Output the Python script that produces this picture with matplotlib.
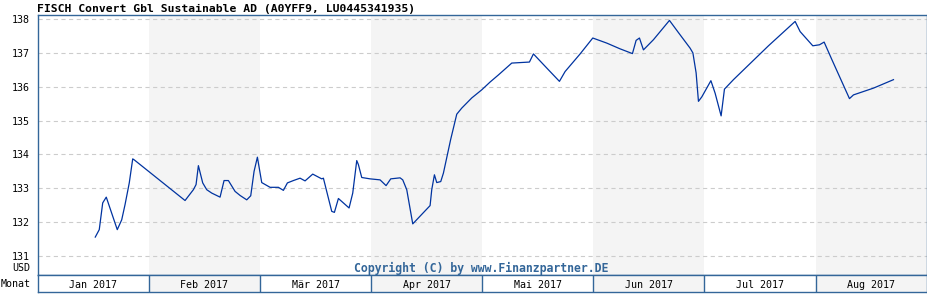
import matplotlib
matplotlib.use("Agg")
from matplotlib import pyplot as plt

# Kursverlauf: x = Position in Monaten ab 1. Jan 2017 (jeder Monat gleich breit)
monat_pos = [
    0.518, 0.554, 0.585, 0.617, 0.716, 0.756, 0.786, 0.824, 0.855, 0.869,
    1.326, 1.401, 1.425, 1.446, 1.485, 1.521, 1.566, 1.641, 1.677, 1.716,
    1.776, 1.821, 1.881, 1.917, 1.947, 1.977, 2.016, 2.091, 2.166, 2.211,
    2.247, 2.301, 2.361, 2.406, 2.475, 2.556, 2.571, 2.616, 2.646, 2.670,
    2.706, 2.802, 2.835, 2.871, 2.886, 2.916, 2.991, 3.081, 3.135, 3.177,
    3.261, 3.285, 3.321, 3.375, 3.531, 3.546, 3.570, 3.591, 3.627, 3.651,
    3.716, 3.771, 3.816, 3.906, 3.996, 4.071, 4.146, 4.266, 4.425, 4.461,
    4.582, 4.695, 4.746, 4.881, 4.995, 5.121, 5.241, 5.352, 5.385, 5.415,
    5.451, 5.541, 5.685, 5.766, 5.871, 5.896, 5.925, 5.946, 5.976, 6.058,
    6.096, 6.150, 6.180, 6.261, 6.576, 6.816, 6.861, 6.975, 7.035, 7.077,
    7.147, 7.305, 7.341, 7.521, 7.701,
]
kurs = [
    131.56, 131.78, 132.57, 132.74, 131.78, 132.07, 132.52, 133.16, 133.87, 133.84,
    132.64, 132.96, 133.11, 133.67, 133.16, 132.96, 132.86, 132.74, 133.23, 133.23,
    132.91, 132.79, 132.66, 132.78, 133.50, 133.92, 133.17, 133.03, 133.03, 132.94,
    133.16, 133.23, 133.30, 133.22, 133.42, 133.28, 133.30, 132.71, 132.32, 132.29,
    132.70, 132.42, 132.86, 133.82, 133.70, 133.32, 133.28, 133.25, 133.08, 133.28,
    133.31, 133.25, 132.96, 131.95, 132.49, 132.96, 133.40, 133.17, 133.20, 133.45,
    134.44, 135.19, 135.37, 135.67, 135.91, 136.14, 136.35, 136.70, 136.73, 136.97,
    136.55, 136.16, 136.45, 136.97, 137.44, 137.29, 137.12, 136.98, 137.37, 137.44,
    137.09, 137.39, 137.96, 137.60, 137.14, 137.00, 136.41, 135.57, 135.70, 136.18,
    135.81, 135.14, 135.93, 136.21, 137.21, 137.93, 137.63, 137.21, 137.24, 137.32,
    136.80, 135.65, 135.76, 135.96, 136.21,
]
monate = ["Jan 2017", "Feb 2017", "Mär 2017", "Apr 2017",
          "Mai 2017", "Jun 2017", "Jul 2017", "Aug 2017"]
y_ticks = [131, 132, 133, 134, 135, 136, 137, 138]

titel = "FISCH Convert Gbl Sustainable AD (A0YFF9, LU0445341935)"
copyright_text = "Copyright (C) by www.Finanzpartner.DE"

RAHMEN = "#336699"
GRAU = "#f4f4f4"
LINIE = "#0033a0"
MONO = "DejaVu Sans Mono"

plt.rcParams["lines.scale_dashes"] = False

fig = plt.figure(figsize=(9.28, 3.0), dpi=100)
ax = fig.add_axes([37.7 / 928, 1 - 275 / 300, 889 / 928, 260 / 300])
ax_m = fig.add_axes([37.7 / 928, 1 - 292.3 / 300, 889 / 928, 17.3 / 300])

for a in (ax, ax_m):
    for i in range(len(monate)):
        if i % 2 == 1:
            a.axvspan(i, i + 1, color=GRAU, lw=0, zorder=0)
    a.set_xlim(0, len(monate))
    for s in a.spines.values():
        s.set_color(RAHMEN)
        s.set_linewidth(1.0)

# Hauptdiagramm
ax.set_ylim(130.44, 138.12)
ax.set_yticks(y_ticks)
ax.set_yticklabels([str(t) for t in y_ticks], family=MONO, fontsize=7.2)
ax.tick_params(axis="y", length=0, pad=5.5)
ax.set_xticks([])
for t in y_ticks:
    ax.axhline(t, color="#cccccc", lw=0.8, dashes=(3, 2.5), zorder=1)
ax.plot(monat_pos, kurs, color=LINIE, lw=0.9, zorder=3)

# Monatszeile
ax_m.set_ylim(0, 1)
ax_m.set_xticks([])
ax_m.set_yticks([])
for i in range(1, len(monate)):
    ax_m.axvline(i, color=RAHMEN, lw=1.0)
for i, m in enumerate(monate):
    ax_m.text(i + 0.5, 0.45, m, ha="center", va="center",
              family=MONO, fontsize=7.2)

fig.text(37 / 928, 1 - 8.5 / 300, titel, ha="left", va="center",
         family=MONO, fontweight="bold", fontsize=8.2)
fig.text(30.5 / 928, 1 - 268 / 300, "USD", ha="right", va="center",
         family=MONO, fontsize=7.2)
fig.text(30.5 / 928, 1 - 284 / 300, "Monat", ha="right", va="center",
         family=MONO, fontsize=7.2)
fig.text(481 / 928, 1 - 268 / 300, copyright_text, ha="center", va="center",
         family=MONO, fontweight="bold", fontsize=8.3, color=RAHMEN)

fig.savefig("out.png", dpi=100)
